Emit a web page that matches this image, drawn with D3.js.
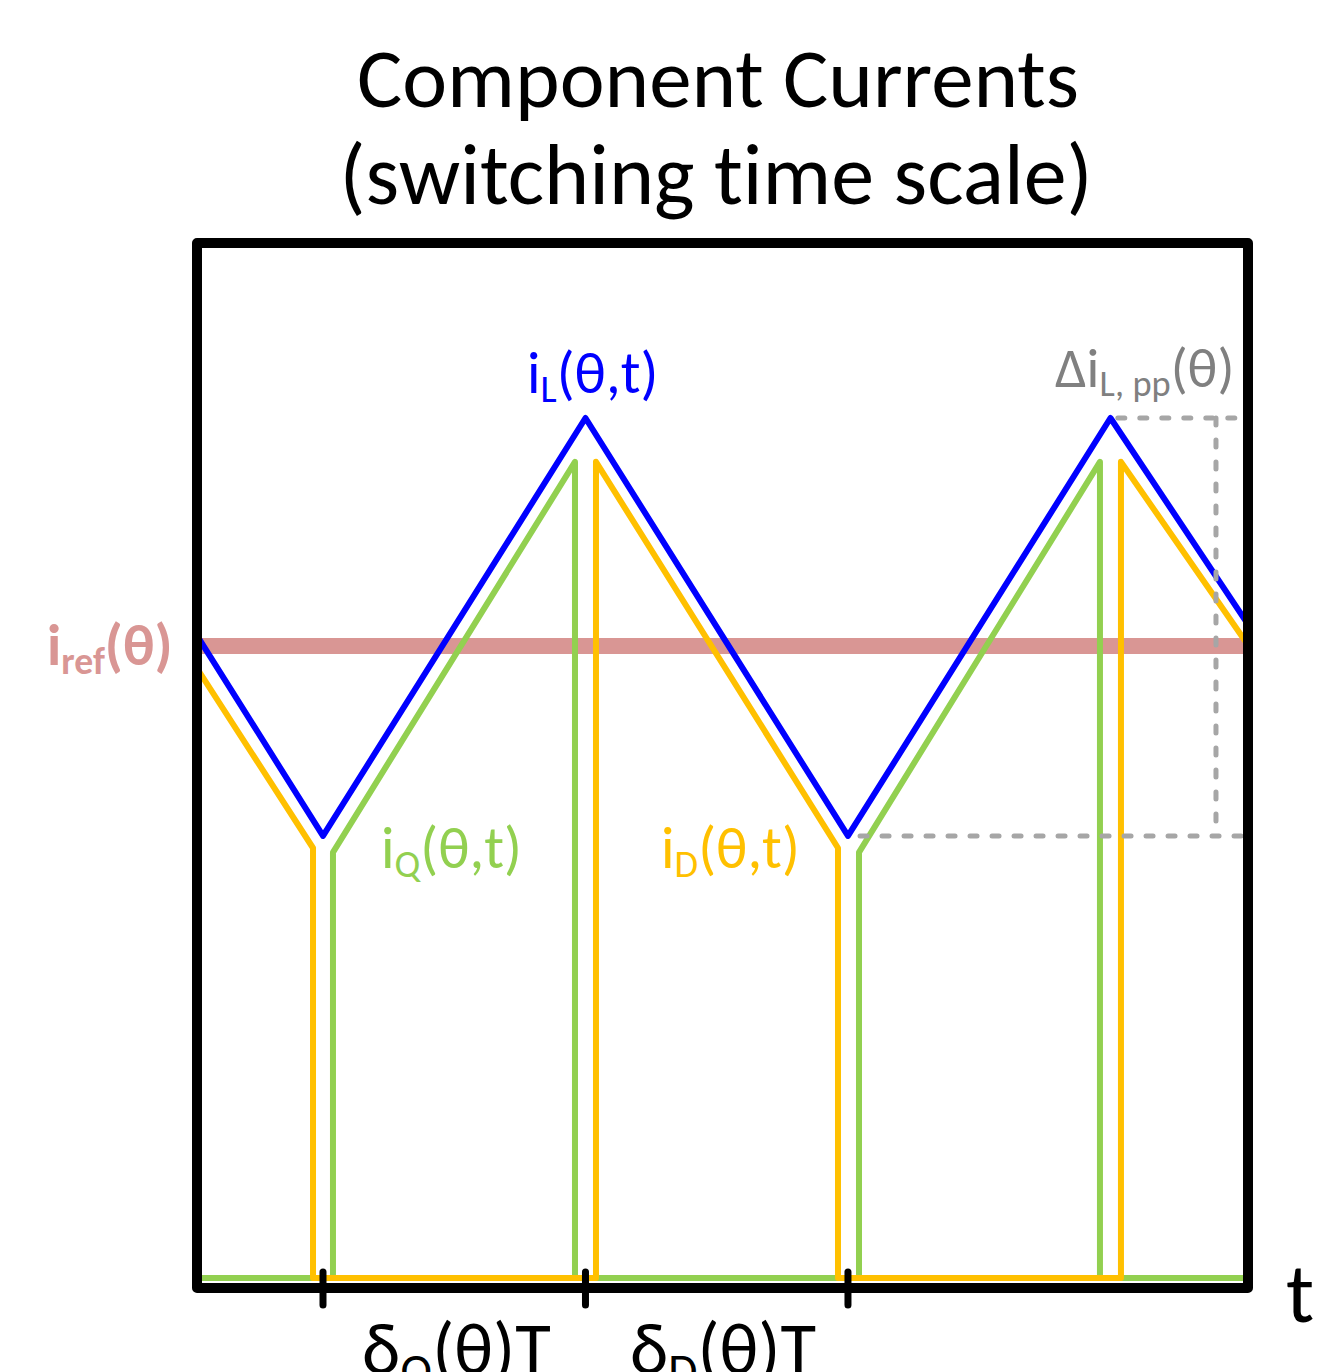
<!DOCTYPE html>
<html>
<head>
<meta charset="utf-8">
<script src="https://cdn.jsdelivr.net/npm/d3@7"></script>
<style>
  body { margin: 0; background: #fff; }
  svg { display: block; }
  text { font-family: Carlito, Calibri, Lato, sans-serif; font-variant-ligatures: none; }
</style>
</head>
<body>
<svg id="chart" width="1334" height="1372"></svg>
<script>
// time in units of the switching period T, current normalised to the iL peak
const iL = [[-0.24, 0.747], [0, 0.514], [0.5, 1.0], [1, 0.514], [1.5, 1.0], [1.762, 0.76]];
const iQ = [[-0.24, 0], [0.019, 0], [0.019, 0.495], [0.48, 0.949], [0.48, 0],
            [1.021, 0], [1.021, 0.495], [1.48, 0.949], [1.48, 0], [1.762, 0]];
const iD = [[-0.24, 0.709], [-0.019, 0.5], [-0.019, 0], [0.52, 0], [0.52, 0.949],
            [0.981, 0.5], [0.981, 0], [1.52, 0], [1.52, 0.949], [1.762, 0.736]];
const iRef = 0.735;
const ripple = { tTop: 1.514, tBottom: 1.023, tSide: 1.701, top: 1.0, bottom: 0.514 };
const tickTimes = [0, 0.5, 1];

const svg = d3.select('#chart');
const frame = { left: 197, right: 1248, top: 243, bottom: 1288 };

const x = d3.scaleLinear().domain([-0.24, 1.762]).range([frame.left, frame.right]);
const y = d3.scaleLinear().domain([0, 1]).range([1278, 418]);

svg.append('clipPath').attr('id', 'clip')
  .append('rect')
  .attr('x', frame.left).attr('y', frame.top)
  .attr('width', frame.right - frame.left).attr('height', frame.bottom - frame.top);

const plot = svg.append('g').attr('clip-path', 'url(#clip)');
const line = d3.line().x((d) => x(d[0])).y((d) => y(d[1]));

// reference current
plot.append('line')
  .attr('x1', frame.left).attr('x2', frame.right)
  .attr('y1', y(iRef)).attr('y2', y(iRef))
  .attr('stroke', '#d99694').attr('stroke-width', 16);

const series = [
  { data: iQ, color: '#92d050' },
  { data: iD, color: '#ffc000' },
  { data: iL, color: '#0000ff' },
];
series.forEach((s) => {
  plot.append('path')
    .datum(s.data)
    .attr('d', line)
    .attr('fill', 'none')
    .attr('stroke', s.color)
    .attr('stroke-width', 6)
    .attr('stroke-linejoin', 'round');
});

// ripple markers
const dashed = [
  [[ripple.tTop, ripple.top], [1.762, ripple.top]],
  [[ripple.tSide, ripple.top], [ripple.tSide, ripple.bottom]],
  [[ripple.tBottom, ripple.bottom], [1.762, ripple.bottom]],
];
plot.selectAll('.ripple')
  .data(dashed)
  .enter()
  .append('path')
  .attr('class', 'ripple')
  .attr('d', line)
  .attr('fill', 'none')
  .attr('stroke', '#a6a6a6')
  .attr('stroke-width', 5)
  .attr('stroke-linecap', 'round')
  .attr('stroke-dasharray', '7 15');

// frame
svg.append('rect')
  .attr('x', frame.left).attr('y', frame.top)
  .attr('width', frame.right - frame.left).attr('height', frame.bottom - frame.top)
  .attr('fill', 'none')
  .attr('stroke', '#000')
  .attr('stroke-width', 10)
  .attr('stroke-linejoin', 'round');

// ticks at switching instants
svg.selectAll('.tick')
  .data(tickTimes)
  .enter()
  .append('line')
  .attr('class', 'tick')
  .attr('x1', (d) => x(d)).attr('x2', (d) => x(d))
  .attr('y1', 1272).attr('y2', 1305)
  .attr('stroke', '#000')
  .attr('stroke-width', 7)
  .attr('stroke-linecap', 'round');

// title
const title = svg.append('text')
  .attr('text-anchor', 'middle')
  .attr('fill', '#000');
title.append('tspan').attr('x', 718).attr('y', 107).attr('font-size', 85).text('Component Currents');
title.append('tspan').attr('x', 716).attr('y', 204).attr('font-size', 86).text('(switching time scale)');

// label helper: main text, subscript, rest
function label(px, py, main, sub, rest, color, size, weight) {
  const t = svg.append('text')
    .attr('x', px).attr('y', py)
    .attr('font-size', size)
    .attr('font-weight', weight || 'normal')
    .attr('fill', color);
  t.append('tspan').text(main);
  t.append('tspan').attr('font-size', size * 0.65).attr('dy', size * 0.16).text(sub);
  t.append('tspan').attr('dy', -size * 0.16).text(rest);
  return t;
}

label(527, 393, 'i', 'L', '(θ,t)', '#0000ff', 59);
label(1055, 387, 'Δi', 'L, pp', '(θ)', '#808080', 56);
label(47, 665, 'i', 'ref', '(θ)', '#d99694', 58, 'bold');
label(381, 868, 'i', 'Q', '(θ,t)', '#92d050', 59);
label(661, 868, 'i', 'D', '(θ,t)', '#ffc000', 59);

label(362, 1374, 'δ', 'Q', '(θ)T', '#000', 73);
label(630, 1374, 'δ', 'D', '(θ)T', '#000', 73);

svg.append('text')
  .attr('x', 1286).attr('y', 1322)
  .attr('font-size', 84)
  .attr('fill', '#000')
  .text('t');
</script>
</body>
</html>
